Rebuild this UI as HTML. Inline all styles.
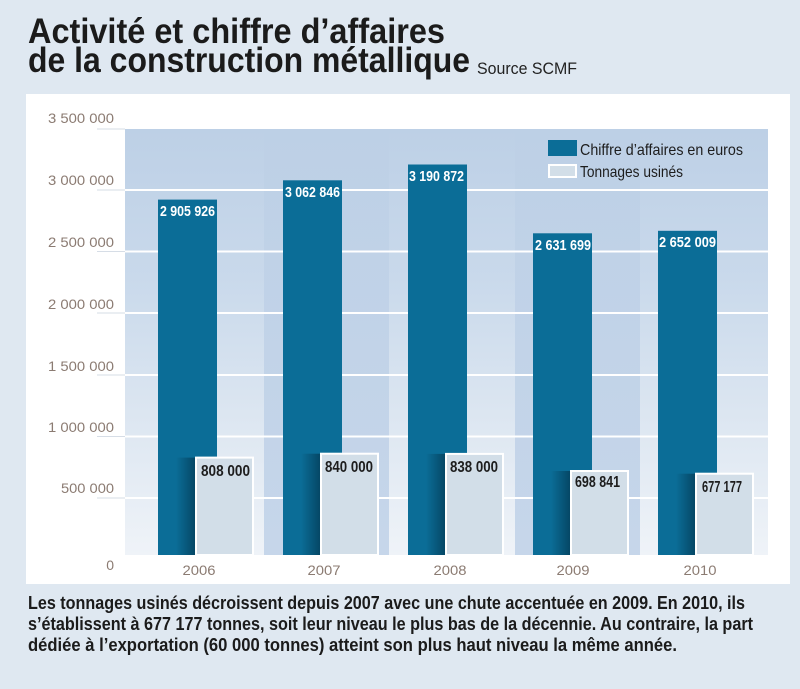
<!DOCTYPE html>
<html><head><meta charset="utf-8"><style>
html,body{margin:0;padding:0;background:#dfe8f1;}
svg{display:block;}
text{font-family:"Liberation Sans Narrow","Liberation Sans",sans-serif;}
</style></head><body>
<svg width="800" height="689" viewBox="0 0 800 689" xmlns="http://www.w3.org/2000/svg">
<defs>
<linearGradient id="bg" x1="0" y1="129" x2="0" y2="555" gradientUnits="userSpaceOnUse">
<stop offset="0" stop-color="#bdd0e6"/>
<stop offset="0.35" stop-color="#c9d9eb"/>
<stop offset="0.72" stop-color="#dfe8f2"/>
<stop offset="1" stop-color="#eff3f8"/>
</linearGradient>
<linearGradient id="band" x1="0" y1="129" x2="0" y2="555" gradientUnits="userSpaceOnUse">
<stop offset="0" stop-color="#bdd0e6"/>
<stop offset="1" stop-color="#c6d6ea"/>
</linearGradient>
<linearGradient id="sh" x1="0" y1="0" x2="1" y2="0">
<stop offset="0" stop-color="#002a40" stop-opacity="0"/>
<stop offset="1" stop-color="#002a40" stop-opacity="0.6"/>
</linearGradient>
</defs>
<rect x="0" y="0" width="800" height="689" fill="#dfe8f1"/>
<text x="28" y="43" font-size="35" font-weight="bold" fill="#1b1b1b" textLength="417" lengthAdjust="spacingAndGlyphs">Activité et chiffre d’affaires</text>
<text x="28" y="72" font-size="35" font-weight="bold" fill="#1b1b1b" textLength="442" lengthAdjust="spacingAndGlyphs">de la construction métallique</text>
<text x="477" y="74" font-size="17" fill="#222" textLength="100" lengthAdjust="spacingAndGlyphs">Source SCMF</text>
<rect x="26" y="94" width="764" height="490" fill="#ffffff"/>
<!-- plot background -->
<rect x="125" y="129" width="643" height="426" fill="url(#bg)"/>
<rect x="264" y="129" width="125" height="426" fill="url(#band)"/>
<rect x="515" y="129" width="125" height="426" fill="url(#band)"/>
<!-- ticks -->
<g stroke="#d6dde6" stroke-width="1">
<line x1="97" y1="129" x2="125" y2="129"/>
<line x1="97" y1="190" x2="125" y2="190"/>
<line x1="97" y1="251.5" x2="125" y2="251.5"/>
<line x1="97" y1="313" x2="125" y2="313"/>
<line x1="97" y1="375" x2="125" y2="375"/>
<line x1="97" y1="436.5" x2="125" y2="436.5"/>
<line x1="97" y1="498" x2="125" y2="498"/>
</g>
<g stroke="#ffffff" stroke-width="2">
<line x1="125" y1="190" x2="768" y2="190"/>
<line x1="125" y1="251.5" x2="768" y2="251.5"/>
<line x1="125" y1="313" x2="768" y2="313"/>
<line x1="125" y1="375" x2="768" y2="375"/>
<line x1="125" y1="436.5" x2="768" y2="436.5"/>
<line x1="125" y1="498" x2="768" y2="498"/>
</g>
<!-- y labels -->
<g font-size="14" fill="#8b7b72" text-anchor="end">
<text x="114" y="123" textLength="66" lengthAdjust="spacingAndGlyphs">3 500 000</text>
<text x="114" y="185" textLength="66" lengthAdjust="spacingAndGlyphs">3 000 000</text>
<text x="114" y="247" textLength="66" lengthAdjust="spacingAndGlyphs">2 500 000</text>
<text x="114" y="309" textLength="66" lengthAdjust="spacingAndGlyphs">2 000 000</text>
<text x="114" y="371" textLength="66" lengthAdjust="spacingAndGlyphs">1 500 000</text>
<text x="114" y="432" textLength="66" lengthAdjust="spacingAndGlyphs">1 000 000</text>
<text x="114" y="493" textLength="53" lengthAdjust="spacingAndGlyphs">500 000</text>
<text x="114" y="570">0</text>
</g>
<!-- blue bars -->
<g fill="#0b6d97">
<rect x="158" y="199.6" width="59" height="355.4"/>
<rect x="283" y="180.3" width="59" height="374.7"/>
<rect x="408" y="164.5" width="59" height="390.5"/>
<rect x="533" y="233.3" width="59" height="321.7"/>
<rect x="658" y="230.8" width="59" height="324.2"/>
</g>
<!-- shadows -->
<rect x="176" y="457.6" width="20" height="97.4" fill="url(#sh)"/>
<rect x="301" y="453.7" width="20" height="101.3" fill="url(#sh)"/>
<rect x="426" y="453.9" width="20" height="101.1" fill="url(#sh)"/>
<rect x="551" y="471" width="20" height="84" fill="url(#sh)"/>
<rect x="676" y="473.7" width="20" height="81.3" fill="url(#sh)"/>
<!-- light bars -->
<g fill="#d2dee8" stroke="#ffffff" stroke-width="2">
<rect x="196" y="457.6" width="57" height="97.4"/>
<rect x="321" y="453.7" width="57" height="101.3"/>
<rect x="446" y="453.9" width="57" height="101.1"/>
<rect x="571" y="471" width="57" height="84"/>
<rect x="696" y="473.7" width="57" height="81.3"/>
</g>
<!-- blue labels -->
<g font-size="15" font-weight="bold" fill="#ffffff">
<text x="160" y="216" textLength="55" lengthAdjust="spacingAndGlyphs">2 905 926</text>
<text x="285" y="197" textLength="55" lengthAdjust="spacingAndGlyphs">3 062 846</text>
<text x="409" y="181" textLength="55" lengthAdjust="spacingAndGlyphs">3 190 872</text>
<text x="535" y="250" textLength="56" lengthAdjust="spacingAndGlyphs">2 631 699</text>
<text x="659" y="247" textLength="57" lengthAdjust="spacingAndGlyphs">2 652 009</text>
</g>
<!-- light labels -->
<g font-size="16" font-weight="bold" fill="#1d1d1d">
<text x="201" y="476" textLength="49" lengthAdjust="spacingAndGlyphs">808 000</text>
<text x="325" y="472" textLength="48" lengthAdjust="spacingAndGlyphs">840 000</text>
<text x="450" y="472" textLength="48" lengthAdjust="spacingAndGlyphs">838 000</text>
<text x="575" y="487" textLength="45" lengthAdjust="spacingAndGlyphs">698 841</text>
<text x="702" y="492" textLength="40" lengthAdjust="spacingAndGlyphs">677 177</text>
</g>
<!-- x labels -->
<g font-size="14" fill="#8b7b72" text-anchor="middle">
<text x="199" y="575" textLength="33" lengthAdjust="spacingAndGlyphs">2006</text>
<text x="324" y="575" textLength="33" lengthAdjust="spacingAndGlyphs">2007</text>
<text x="450" y="575" textLength="33" lengthAdjust="spacingAndGlyphs">2008</text>
<text x="573" y="575" textLength="33" lengthAdjust="spacingAndGlyphs">2009</text>
<text x="700" y="575" textLength="33" lengthAdjust="spacingAndGlyphs">2010</text>
</g>
<!-- legend -->
<rect x="548" y="140" width="29" height="16" fill="#0b6d97"/>
<rect x="549" y="165" width="27" height="12" fill="#d2dee8" stroke="#ffffff" stroke-width="2"/>
<g font-size="16" fill="#1d1d1d">
<text x="580" y="155" textLength="163" lengthAdjust="spacingAndGlyphs">Chiffre d’affaires en euros</text>
<text x="580" y="177" textLength="103" lengthAdjust="spacingAndGlyphs">Tonnages usinés</text>
</g>
<!-- caption -->
<g font-size="18" font-weight="bold" fill="#1b1b1b">
<text x="28" y="609" textLength="717" lengthAdjust="spacingAndGlyphs">Les tonnages usinés décroissent depuis 2007 avec une chute accentuée en 2009. En 2010, ils</text>
<text x="28" y="630" textLength="725" lengthAdjust="spacingAndGlyphs">s’établissent à 677 177 tonnes, soit leur niveau le plus bas de la décennie. Au contraire, la part</text>
<text x="28" y="651" textLength="649" lengthAdjust="spacingAndGlyphs">dédiée à l’exportation (60 000 tonnes) atteint son plus haut niveau la même année.</text>
</g>
</svg>
</body></html>
